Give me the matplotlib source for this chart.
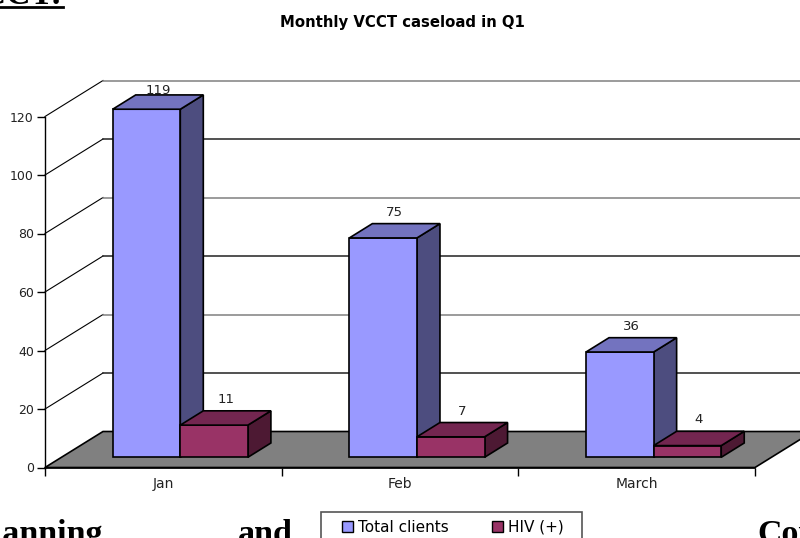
import matplotlib
matplotlib.use('Agg')
import matplotlib.pyplot as plt
from matplotlib.patches import Polygon, Rectangle

months = ['Jan', 'Feb', 'March']
total_clients = [119, 75, 36]
hiv_positive = [11, 7, 4]
y_ticks = [0, 20, 40, 60, 80, 100, 120]
grid_colors = ['black', '#222222', '#808080', '#222222', '#808080', '#222222', '#808080']

W, H = 800, 538
plt.rcParams['font.family'] = ['DejaVu Sans']

fig = plt.figure(figsize=(W / 100, H / 100), dpi=100)
ax = fig.add_axes([45 / W, (H - 467.5) / H, 710 / W, 351 / H])
ax.set_xlim(0, 3)
ax.set_ylim(0, 120)

# pixel sizes turned into data units
PX = 3 / 710
PY = 120 / 351
wall_dx, wall_dy = 58 * PX, 36 * PY
bar_dx, bar_dy = 23 * PX, 14.3 * PY
lift_x, lift_y = 16 * PX, 10.2 * PY
bar_w = 67.6 * PX
bar_gap = 51.7 * PX


def add_poly(pts, color, z):
    ax.add_patch(Polygon(pts, closed=True, facecolor=color, edgecolor='black',
                         linewidth=1.2, joinstyle='miter', clip_on=False, zorder=z))


# back wall lines
for t, c in zip(y_ticks, grid_colors):
    if t == 0:
        continue
    ax.plot([0, wall_dx], [t, t + wall_dy], color='black', lw=0.8, clip_on=False, zorder=1)
    ax.plot([wall_dx, 3 + wall_dx], [t + wall_dy, t + wall_dy], color=c,
            lw=1.1, clip_on=False, zorder=1)

# floor
add_poly([(0, 0), (3, 0), (3 + wall_dx, wall_dy), (wall_dx, wall_dy)], '#808080', 2)


def draw_series(values, shift, front, top, side, z):
    for i, v in enumerate(values):
        x0 = i + lift_x + bar_gap + shift
        x1 = x0 + bar_w
        y0 = lift_y
        y1 = y0 + v
        add_poly([(x1, y0), (x1 + bar_dx, y0 + bar_dy), (x1 + bar_dx, y1 + bar_dy), (x1, y1)], side, z)
        ax.bar(x0, v, width=bar_w, bottom=y0, align='edge', color=front, edgecolor='black',
               linewidth=1.2, clip_on=False, zorder=z + 0.1)
        add_poly([(x0, y1), (x1, y1), (x1 + bar_dx, y1 + bar_dy), (x0 + bar_dx, y1 + bar_dy)], top, z + 0.2)
        # label sits over the top face, squeezed at the top of the chart
        ax.text(x0 + (bar_w + bar_dx) / 2, min(y1 + bar_dy + 11.5 * PY, 128.8), str(v),
                ha='center', va='center', fontsize=9.5, color='#222222', zorder=z - 0.1)


draw_series(total_clients, 0, '#9999FF', '#7373BF', '#4D4D7F', 3)
draw_series(hiv_positive, bar_w, '#993366', '#732650', '#4D1933', 4)

ax.patch.set_visible(False)
for name in ['top', 'right']:
    ax.spines[name].set_visible(False)
ax.spines['left'].set_linewidth(1.0)
ax.spines['bottom'].set_linewidth(1.2)
ax.spines['left'].set_zorder(6)
ax.spines['bottom'].set_zorder(6)
ax.set_yticks(y_ticks)
ax.set_xticks([0, 1, 2, 3])
ax.set_xticklabels([])
ax.set_xticks([0.5, 1.5, 2.5], labels=months, minor=True)
ax.tick_params(axis='y', length=6, width=1, labelsize=9, pad=2, labelcolor='#222222')
ax.tick_params(axis='x', which='major', length=6, width=1)
ax.tick_params(axis='x', which='minor', length=0, labelsize=10, pad=7, labelcolor='#222222')

fig.text(402 / W, 1 - 23 / H, 'Monthly VCCT caseload in Q1', ha='center', va='center',
         fontsize=10.7, fontweight='bold')

# legend box runs off the bottom of the page
fig.add_artist(Rectangle((320.5 / W, 1 - 545 / H), 261 / W, 33 / H, transform=fig.transFigure,
                         facecolor='white', edgecolor='#555555', linewidth=1.2, zorder=5))
handles = [Rectangle((0, 0), 1, 1, facecolor='#9999FF', edgecolor='black', linewidth=1),
           Rectangle((0, 0), 1, 1, facecolor='#993366', edgecolor='black', linewidth=1)]
leg = fig.legend(handles, ['Total clients', 'HIV (+)'], ncol=2, frameon=False, fontsize=11,
                 loc='center left', bbox_to_anchor=(342 / W, 1 - 527 / H), handlelength=0.72,
                 handleheight=0.72, handletextpad=0.33, columnspacing=2.85, borderpad=0, borderaxespad=0)
leg.set_zorder(6)

# document text around the pasted chart, cut by the page edge
serif = dict(family='Liberation Serif', fontweight='bold', fontsize=24.5, va='baseline')
fig.text(103 / W, 1 - 543 / H, 'Planning', ha='right', **serif)
fig.text(238 / W, 1 - 543 / H, 'and', ha='left', **serif)
fig.text(757 / W, 1 - 543 / H, 'Counselling', ha='left', **serif)
fig.text(63 / W, 1 - 3 / H, 'VCCT:', ha='right', **serif)
fig.add_artist(plt.Line2D([0, 63 / W], [1 - 7 / H, 1 - 7 / H], color='black', lw=2,
                          transform=fig.transFigure))

fig.savefig('out.png', dpi=100)
